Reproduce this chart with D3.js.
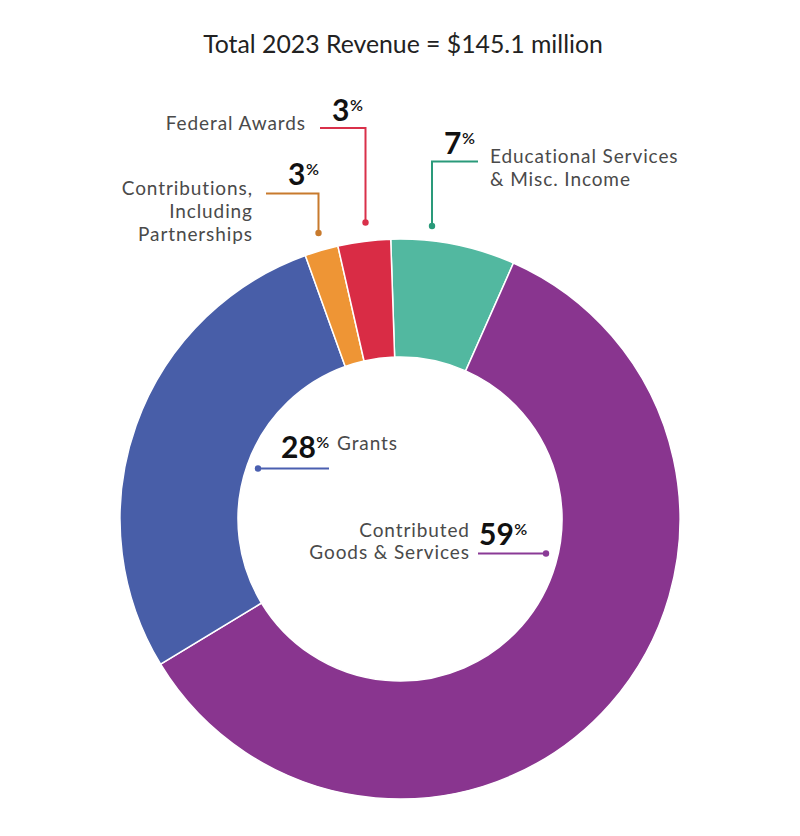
<!DOCTYPE html>
<html>
<head>
<meta charset="utf-8">
<script src="https://cdn.jsdelivr.net/npm/d3@7"></script>
<style>
  html, body { margin: 0; padding: 0; background: #fff; }
  svg { display: block; font-family: Lato, "Open Sans", sans-serif; }
</style>
</head>
<body>
<svg id="chart" width="800" height="836"></svg>
<script>
// ---- data ----
const categories = ["Educational Services & Misc. Income", "Contributed Goods & Services", "Grants", "Contributions, Including Partnerships", "Federal Awards"];
const values = [10.4, 86.6, 40.9, 2.8, 4.4];            // $ millions, total 145.1
const pctLabels = ["7", "59", "28", "3", "3"];
const colors = ["#52b8a0", "#89358f", "#485ea8", "#ee9535", "#d92c45"];
const leaderColors = ["#2a9a7a", "#8a3a96", "#4a5fb0", "#c87a2d", "#d9304a"];
const title = "Total 2023 Revenue = $145.1 million";

// ---- layout ----
const cx = 400, cy = 519, rOuter = 280, rInner = 162;
const startDeg = -1.9;

const svg = d3.select("#chart");
svg.append("text")
  .attr("x", 403).attr("y", 53)
  .attr("text-anchor", "middle")
  .attr("font-size", 24.8)
  .attr("fill", "#222")
  .text(title);

const pie = d3.pie().sort(null).value(d => d)
  .startAngle(startDeg * Math.PI / 180)
  .endAngle(startDeg * Math.PI / 180 + 2 * Math.PI);
const arc = d3.arc().innerRadius(rInner).outerRadius(rOuter);

const g = svg.append("g").attr("transform", `translate(${cx},${cy})`);
g.selectAll("path").data(pie(values)).join("path")
  .attr("d", arc)
  .attr("fill", (d, i) => colors[i])
  .attr("stroke", "#fff")
  .attr("stroke-width", 1.5);

// annotation layout (leader polyline points, dot, label & pct positions)
const annotations = [
  { // teal
    line: [[478, 161.5], [432, 161.5], [432, 226]],
    pct: { x: 444, y: 154, anchor: "start" },
    label: { x: 490, y: 163, anchor: "start", lines: ["Educational Services", "& Misc. Income"] }
  },
  { // purple
    line: [[478, 553.5], [546, 553.5]],
    pct: { x: 479, y: 545, anchor: "start" },
    label: { x: 469, y: 536.5, anchor: "end", lines: ["Contributed", "Goods & Services"] }
  },
  { // blue
    line: [[329, 468.5], [258, 468.5]],
    pct: { x: 281, y: 458, anchor: "start" },
    label: { x: 337, y: 450, anchor: "start", lines: ["Grants"] }
  },
  { // orange
    line: [[266, 193.5], [318.5, 193.5], [318.5, 233]],
    pct: { x: 288, y: 185, anchor: "start" },
    label: { x: 252, y: 195, anchor: "end", lines: ["Contributions,", "Including", "Partnerships"] }
  },
  { // red
    line: [[320, 128], [365.5, 128], [365.5, 222.5]],
    pct: { x: 332, y: 121, anchor: "start" },
    label: { x: 305, y: 130, anchor: "end", lines: ["Federal Awards"] }
  }
];

const ann = svg.append("g");
annotations.forEach((a, i) => {
  ann.append("path")
    .attr("d", d3.line()(a.line))
    .attr("fill", "none")
    .attr("stroke", leaderColors[i])
    .attr("stroke-width", 2);
  const end = a.line[a.line.length - 1];
  ann.append("circle")
    .attr("cx", end[0]).attr("cy", end[1]).attr("r", 3.2)
    .attr("fill", leaderColors[i]);

  const t = ann.append("text")
    .attr("x", a.pct.x).attr("y", a.pct.y)
    .attr("text-anchor", a.pct.anchor)
    .attr("fill", "#111");
  t.append("tspan").attr("font-size", 30).attr("font-weight", 700).text(pctLabels[i]);
  t.append("tspan").attr("font-size", 16).attr("font-weight", 600).attr("dy", -10).attr("dx", 0.5).text("%");

  const lt = ann.append("text")
    .attr("text-anchor", a.label.anchor)
    .attr("font-size", 19)
    .attr("letter-spacing", 0.9)
    .attr("fill", "#4a4a4a");
  a.label.lines.forEach((ln, k) => {
    lt.append("tspan")
      .attr("x", a.label.anchor === "end" ? a.label.x + 0.9 : a.label.x)
      .attr("y", a.label.y + k * 22.8).text(ln);
  });
});
</script>
</body>
</html>
